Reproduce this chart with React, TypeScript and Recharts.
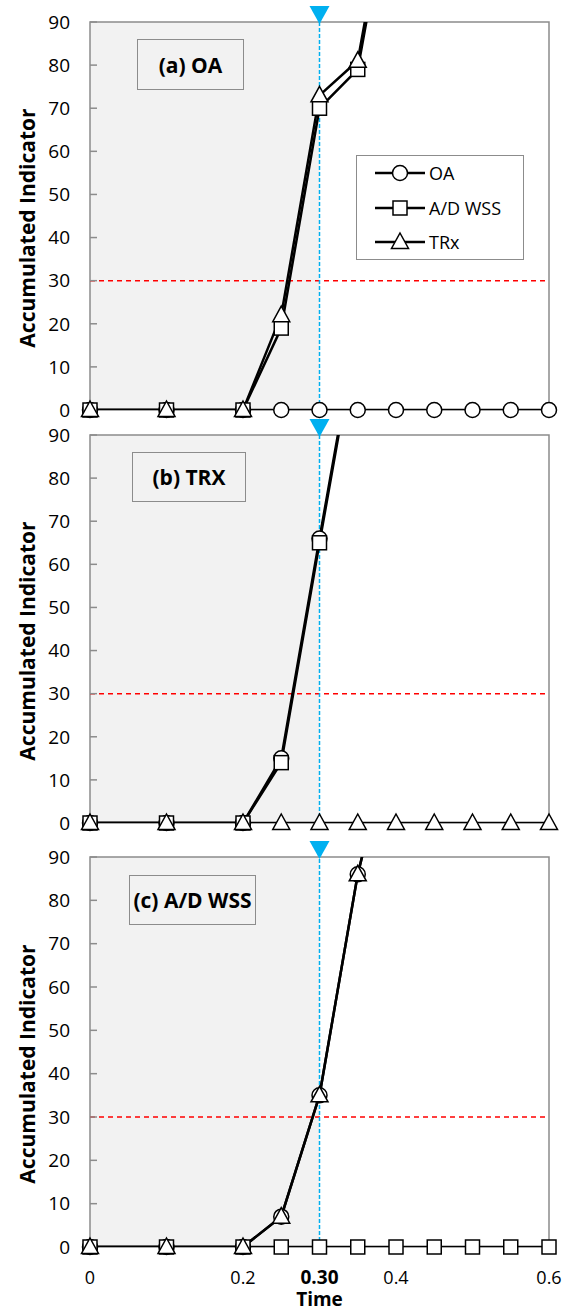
import React from "react";
import { LineChart, Line, XAxis, YAxis, ReferenceArea, ReferenceLine } from "recharts";

// time steps shared by every panel
const times = [0, 0.1, 0.2, 0.25, 0.3, 0.35, 0.4, 0.45, 0.5, 0.55, 0.6];
const xTicks = [0, 0.2, 0.3, 0.4, 0.6];
const yTicks = [0, 10, 20, 30, 40, 50, 60, 70, 80, 90];
const yMax = 90;
const threshold = 30;
const markTime = 0.3;

// (a) OA
const oaA = [0, 0, 0, 0, 0, 0, 0, 0, 0, 0, 0];
const adA = [0, 0, 0, 19, 70, 79, 128, null, null, null, null];
const trA = [0, 0, 0, 22, 73, 81, 130, null, null, null, null];

// (b) TRX
const oaB = [0, 0, 0, 15, 66, 116, null, null, null, null, null];
const adB = [0, 0, 0, 14, 65, 115, null, null, null, null, null];
const trB = [0, 0, 0, 0, 0, 0, 0, 0, 0, 0, 0];

// (c) A/D WSS
const oaC = [0, 0, 0, 7, 35, 86, 122, null, null, null, null];
const adC = [0, 0, 0, 0, 0, 0, 0, 0, 0, 0, 0];
const trC = [0, 0, 0, 7, 35, 86, 122, null, null, null, null];

const seriesNames = ["OA", "A/D WSS", "TRx"];

type V = number | null;
const inRange = (v: V) => (v == null || v > yMax ? null : v);

// lines use the clipped axis, markers use an unclipped copy (values above 90 dropped)
const build = (oa: V[], ad: V[], tr: V[]) =>
  times.map((t, i) => ({
    t,
    oa: oa[i],
    ad: ad[i],
    tr: tr[i],
    oaM: inRange(oa[i]),
    adM: inRange(ad[i]),
    trM: inRange(tr[i]),
  }));

const FONT = "'Open Sans', sans-serif";
const GRID = "#8c8c8c";
const SHADE = "#f2f2f2";
const BLUE = "#00b0f0";

const CircleDot = (p: any) => {
  if (p.cx == null || p.cy == null || p.value == null) return null;
  return <circle key={p.key} cx={p.cx} cy={p.cy} r={7.5} fill="#fff" stroke="#000" strokeWidth={1.5} />;
};

const SquareDot = (p: any) => {
  if (p.cx == null || p.cy == null || p.value == null) return null;
  return (
    <rect key={p.key} x={p.cx - 7} y={p.cy - 7} width={14} height={14} fill="#fff" stroke="#000" strokeWidth={1.5} />
  );
};

const TriDot = (p: any) => {
  if (p.cx == null || p.cy == null || p.value == null) return null;
  const { cx, cy } = p;
  return (
    <polygon
      key={p.key}
      points={`${cx},${cy - 9} ${cx + 8.5},${cy + 6.5} ${cx - 8.5},${cy + 6.5}`}
      fill="#fff"
      stroke="#000"
      strokeWidth={1.5}
    />
  );
};

const BlueMarker = ({ viewBox }: any) => {
  const x = viewBox.x;
  const y = viewBox.y;
  return <polygon points={`${x - 10},${y - 16} ${x + 10},${y - 16} ${x},${y + 2}`} fill={BLUE} />;
};

const YTitle = ({ viewBox }: any) => {
  const cy = viewBox.y + viewBox.height / 2 + 12;
  return (
    <text
      x={27}
      y={cy}
      transform={`rotate(-90 27 ${cy})`}
      textAnchor="middle"
      dominantBaseline="central"
      fontFamily={FONT}
      fontWeight={700}
      fontSize={21}
      fill="#000"
    >
      Accumulated Indicator
    </text>
  );
};

const XTitle = ({ viewBox }: any) => (
  <text
    x={viewBox.x + viewBox.width / 2}
    y={viewBox.y + 52}
    textAnchor="middle"
    dominantBaseline="central"
    fontFamily={FONT}
    fontWeight={700}
    fontSize={19}
    fill="#000"
  >
    Time
  </text>
);

const XTick = ({ x, y, payload }: any) => {
  const bold = payload.value === markTime;
  return (
    <text
      x={x}
      y={y}
      dominantBaseline="central"
      textAnchor="middle"
      fontFamily={FONT}
      fontSize={bold ? 19 : 18}
      fontWeight={bold ? 700 : 400}
      fill="#000"
    >
      {bold ? "0.30" : String(payload.value)}
    </text>
  );
};

const LegendBox = () => {
  const dots = [CircleDot, SquareDot, TriDot];
  return (
    <div
      style={{
        position: "absolute",
        left: 356,
        top: 155,
        width: 168,
        height: 105,
        border: `1.5px solid ${GRID}`,
        background: "#fff",
        boxSizing: "border-box",
        fontFamily: FONT,
        fontSize: 18,
      }}
    >
      {seriesNames.map((name, i) => {
        const D = dots[i];
        return (
          <div key={name} style={{ display: "flex", alignItems: "center", height: 34.5 }}>
            <svg width={52} height={24} style={{ marginLeft: 17, flex: "none" }}>
              <line x1={1} y1={12} x2={51} y2={12} stroke="#000" strokeWidth={2.5} />
              <D cx={26} cy={12} value={1} />
            </svg>
            <span style={{ marginLeft: 3 }}>{name}</span>
          </div>
        );
      })}
    </div>
  );
};

type PanelProps = {
  data: any[];
  top: number;
  height: number;
  bottom: number;
  showX?: boolean;
  showLegend?: boolean;
  tag: string;
  tagBox: { left: number; top: number; width: number; height: number };
};

const Panel = ({ data, top, height, bottom, showX, showLegend, tag, tagBox }: PanelProps) => (
  <div style={{ position: "absolute", left: 0, top, width: 565, height }}>
    <LineChart width={565} height={height} data={data} margin={{ top: 22, right: 16, left: 50, bottom }}>
      <XAxis
        dataKey="t"
        type="number"
        domain={[0, 0.6]}
        ticks={xTicks}
        hide={!showX}
        axisLine={false}
        tickLine={false}
        tickSize={0}
        tickMargin={30}
        tick={<XTick />}
        height={60}
        label={{ content: (p: any) => <XTitle {...p} /> }}
      />
      <YAxis
        domain={[0, yMax]}
        ticks={yTicks}
        allowDataOverflow
        width={40}
        axisLine={false}
        tickLine={{ stroke: GRID, strokeWidth: 1.5 }}
        tickSize={-7}
        tickMargin={27}
        tick={{ fontFamily: FONT, fontSize: 19, fill: "#000" }}
        label={{ content: (p: any) => <YTitle {...p} /> }}
      />
      <YAxis yAxisId="m" domain={[0, yMax]} hide />
      <ReferenceArea x1={0} x2={markTime} y1={0} y2={yMax} fill={SHADE} fillOpacity={1} stroke="none" />
      <ReferenceArea x1={0} x2={0.6} y1={0} y2={yMax} fill="none" stroke={GRID} strokeWidth={1.5} />
      <ReferenceLine y={threshold} stroke="#ff0000" strokeWidth={1.5} strokeDasharray="5 4" />
      <ReferenceLine
        x={markTime}
        stroke={BLUE}
        strokeWidth={1.5}
        strokeDasharray="4 2"
        label={{ content: (p: any) => <BlueMarker {...p} /> }}
      />
      <Line dataKey="oa" stroke="#000" strokeWidth={2.5} dot={false} activeDot={false} isAnimationActive={false} />
      <Line dataKey="ad" stroke="#000" strokeWidth={2.5} dot={false} activeDot={false} isAnimationActive={false} />
      <Line dataKey="tr" stroke="#000" strokeWidth={2.5} dot={false} activeDot={false} isAnimationActive={false} />
      <Line yAxisId="m" dataKey="oaM" name="OA" stroke="none" dot={CircleDot} activeDot={false} isAnimationActive={false} />
      <Line yAxisId="m" dataKey="adM" name="A/D WSS" stroke="none" dot={SquareDot} activeDot={false} isAnimationActive={false} />
      <Line yAxisId="m" dataKey="trM" name="TRx" stroke="none" dot={TriDot} activeDot={false} isAnimationActive={false} />
    </LineChart>
    <div
      style={{
        position: "absolute",
        ...tagBox,
        border: `1.5px solid ${GRID}`,
        background: SHADE,
        boxSizing: "border-box",
        display: "flex",
        alignItems: "center",
        justifyContent: "center",
        fontFamily: FONT,
        fontWeight: 700,
        fontSize: 21,
      }}
    >
      {tag}
    </div>
    {showLegend && <LegendBox />}
  </div>
);

export default function App() {
  return (
    <div style={{ position: "absolute", left: 0, top: 0, width: 565, height: 1308, background: "#fff" }}>
      <Panel
        data={build(oaA, adA, trA)}
        top={0}
        height={430}
        bottom={20}
        showLegend
        tag="(a) OA"
        tagBox={{ left: 137, top: 39, width: 107, height: 51 }}
      />
      <Panel
        data={build(oaB, adB, trB)}
        top={413}
        height={430}
        bottom={20}
        tag="(b) TRX"
        tagBox={{ left: 132, top: 39, width: 114, height: 50 }}
      />
      <Panel
        data={build(oaC, adC, trC)}
        top={835}
        height={472}
        bottom={0}
        showX
        tag="(c) A/D WSS"
        tagBox={{ left: 129, top: 40, width: 127, height: 50 }}
      />
    </div>
  );
}
